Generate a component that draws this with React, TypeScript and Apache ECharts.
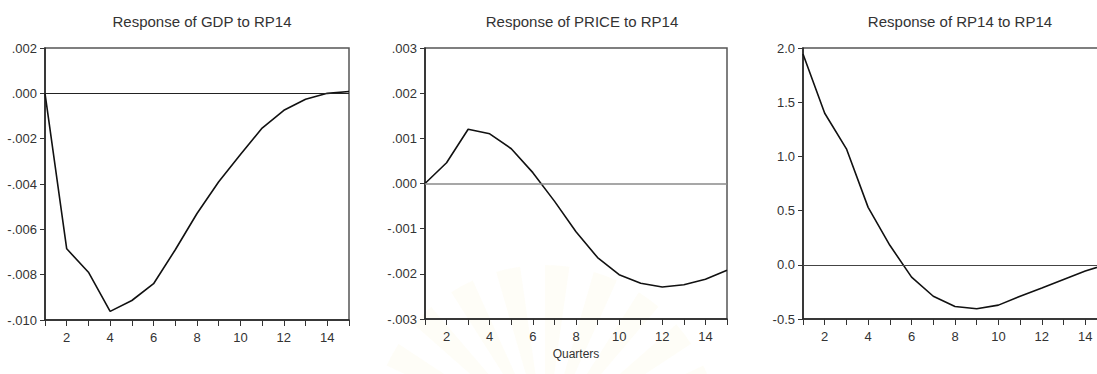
import React, { useEffect, useRef } from 'react';
import * as echarts from 'echarts';

const quarters = [1, 2, 3, 4, 5, 6, 7, 8, 9, 10, 11, 12, 13, 14, 15];
const gdpResponse = [0, -0.00686, -0.00789, -0.00962, -0.00914, -0.0084, -0.0069, -0.0053, -0.0039, -0.0027, -0.00153, -0.00075, -0.00026, 0.0, 0.00008];
const priceResponse = [0, 0.00046, 0.0012, 0.0011, 0.00077, 0.00024, -0.00039, -0.00107, -0.00164, -0.00202, -0.00221, -0.00229, -0.00224, -0.00212, -0.00192];
const rp14Response = [1.945, 1.398, 1.07, 0.53, 0.18, -0.114, -0.29, -0.384, -0.405, -0.372, -0.29, -0.215, -0.135, -0.058, 0.005];
const titles = ['Response of GDP to RP14', 'Response of PRICE to RP14', 'Response of RP14 to RP14'];
const xAxisName = 'Quarters';

const FONT = 'Liberation Sans, Arial, sans-serif';

const fmt3 = (v: number) => {
  const s = Math.abs(v) < 1e-9 ? '0.000' : v.toFixed(3);
  return s.replace(/^(-?)0\./, '$1.');
};
const fmt1 = (v: number) => (Math.abs(v) < 1e-9 ? 0 : v).toFixed(1);

export default function App() {
  const ref = useRef<HTMLDivElement>(null);
  useEffect(() => {
    const chart = echarts.init(ref.current!, null, { renderer: 'svg' });

    const grids = [
      { left: 45, top: 48, width: 304, height: 272 },
      { left: 425, top: 48, width: 302, height: 271 },
      { left: 803, top: 48, width: 304, height: 271 },
    ];
    const yCfg = [
      { min: -0.01, max: 0.002, interval: 0.002, fmt: fmt3 },
      { min: -0.003, max: 0.003, interval: 0.001, fmt: fmt3 },
      { min: -0.5, max: 2.0, interval: 0.5, fmt: fmt1 },
    ];
    const zeroLine = [
      { color: '#222', width: 1 },
      { color: '#8a8a8a', width: 1.5 },
      { color: '#444', width: 1 },
    ];
    const seriesData = [gdpResponse, priceResponse, rp14Response];
    const titleCenters = [197, 577, 955];

    const rays: any[] = [];
    for (let i = 0; i < 9; i++) {
      const a = -Math.PI * 0.86 + i * Math.PI * 0.09;
      rays.push({
        type: 'sector',
        z: -10,
        silent: true,
        shape: { cx: 545, cy: 440, r0: 40, r: 175, startAngle: a, endAngle: a + 0.14 },
        style: { fill: 'rgba(245, 228, 170, 0.09)' },
      });
    }

    chart.setOption({
      animation: false,
      backgroundColor: '#ffffff',
      graphic: rays,
      title: titles.map((t, i) => ({
        text: t,
        left: titleCenters[i],
        top: 9,
        textAlign: 'center',
        textStyle: { fontSize: 15, fontWeight: 'normal', color: '#333', fontFamily: FONT },
      })),
      grid: grids.map((g) => ({
        ...g,
        show: true,
        borderColor: '#555',
        borderWidth: 1.5,
        backgroundColor: 'transparent',
        containLabel: false,
      })),
      xAxis: grids.map((_, i) => ({
        type: 'value',
        gridIndex: i,
        min: 1,
        max: 15,
        interval: 1,
        name: i === 1 ? xAxisName : '',
        nameLocation: 'middle',
        nameGap: 22,
        nameTextStyle: { fontSize: 12, color: '#333', fontFamily: FONT },
        axisLine: { show: true, onZero: false, lineStyle: { color: '#222', width: 1.5 } },
        axisTick: { show: true, length: 6, lineStyle: { color: '#333', width: 1 } },
        axisLabel: {
          formatter: (v: number) => (v % 2 === 0 ? String(v) : ''),
          fontSize: 13,
          color: '#333',
          margin: 11,
          fontFamily: FONT,
        },
        splitLine: { show: false },
      })),
      yAxis: grids.map((_, i) => ({
        type: 'value',
        gridIndex: i,
        min: yCfg[i].min,
        max: yCfg[i].max,
        interval: yCfg[i].interval,
        axisLine: { show: true, onZero: false, lineStyle: { color: '#222', width: 1.5 } },
        axisTick: { show: true, length: 5, lineStyle: { color: '#333', width: 1 } },
        axisLabel: {
          formatter: yCfg[i].fmt,
          fontSize: 13,
          color: '#333',
          margin: 8,
          fontFamily: FONT,
        },
        splitLine: { show: false },
      })),
      series: seriesData.map((d, i) => ({
        type: 'line',
        xAxisIndex: i,
        yAxisIndex: i,
        data: quarters.map((q, k) => [q, d[k]]),
        showSymbol: false,
        symbol: 'none',
        lineStyle: { color: '#111', width: 1.6 },
        markLine: {
          silent: true,
          symbol: ['none', 'none'],
          label: { show: false },
          data: [{ yAxis: 0 }],
          lineStyle: { type: 'solid', color: zeroLine[i].color, width: zeroLine[i].width },
        },
      })),
    });
    return () => chart.dispose();
  }, []);
  return (
    <div
      style={{ position: 'absolute', left: 0, top: 0, width: 1097, height: 374, overflow: 'hidden', background: '#fff' }}
    >
      <div ref={ref} style={{ width: 1130, height: 374 }} />
    </div>
  );
}
